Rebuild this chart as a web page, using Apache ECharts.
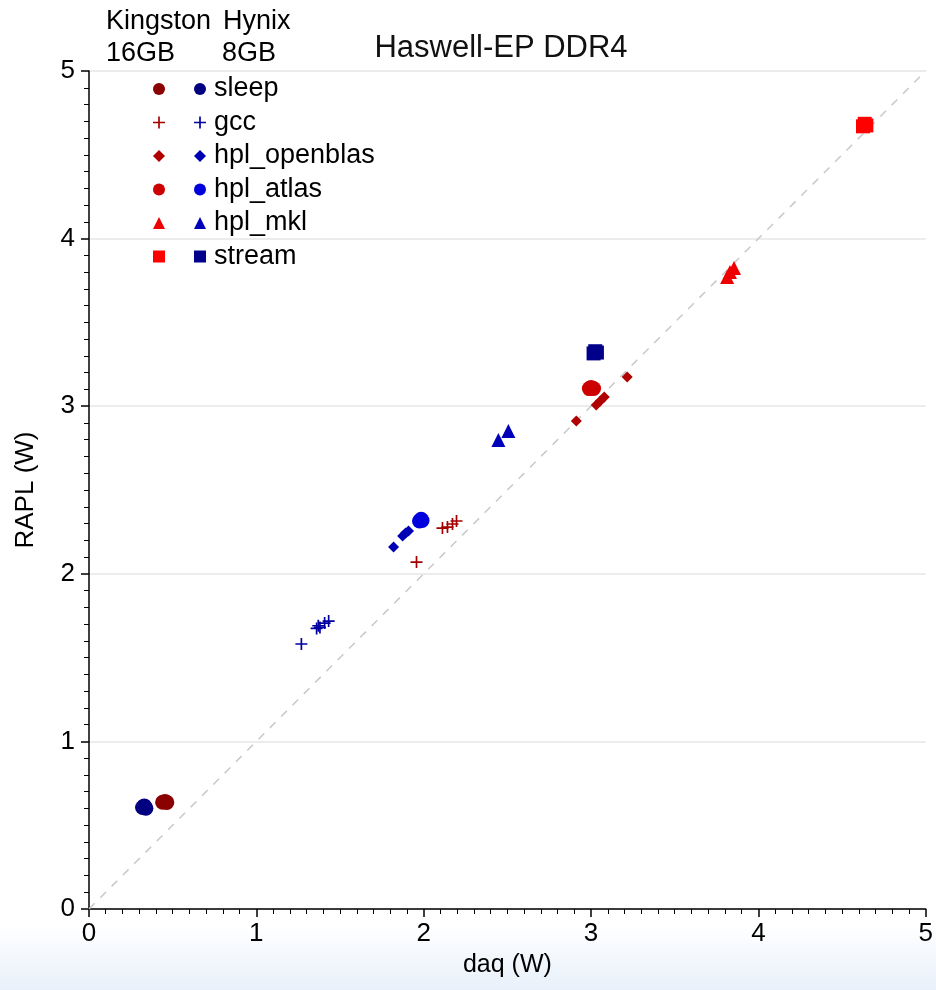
<!DOCTYPE html>
<html>
<head>
<meta charset="utf-8">
<title>Haswell-EP DDR4</title>
<script src="https://cdn.jsdelivr.net/npm/echarts@6/dist/echarts.min.js"></script>
<style>
  html, body { margin: 0; padding: 0; background: #fff; }
  #chart { width: 936px; height: 990px; }
</style>
</head>
<body>
<div id="chart"></div>
<script>
// 数据 => 每组 [daq (W), RAPL (W)]
const kingstonSleep = [[0.44, 0.637], [0.455, 0.641], [0.465, 0.636]]
const hynixSleep = [[0.32, 0.606], [0.33, 0.615], [0.335, 0.607], [0.34, 0.601]]
const kingstonGcc = [[1.957, 2.07], [2.112, 2.273], [2.142, 2.279], [2.172, 2.297], [2.196, 2.315]]
const hynixGcc = [[1.269, 1.581], [1.36, 1.674], [1.37, 1.69], [1.38, 1.68], [1.408, 1.706], [1.432, 1.718]]
const kingstonOpenblas = [[2.912, 2.912], [3.031, 3.007], [3.055, 3.031], [3.079, 3.055], [3.216, 3.174]]
const hynixOpenblas = [[1.82, 2.16], [1.874, 2.226], [1.892, 2.243], [1.909, 2.255]]
const kingstonAtlas = [[2.99, 3.105], [3.0, 3.112], [3.015, 3.106]]
const hynixAtlas = [[1.975, 2.315], [1.985, 2.325], [1.99, 2.318]]
const kingstonMkl = [[3.813, 3.771], [3.83, 3.8], [3.854, 3.825]]
const hynixMkl = [[2.446, 2.798], [2.506, 2.852]]
const kingstonStream = [[4.625, 4.67], [4.635, 4.685], [4.645, 4.675]]
const hynixStream = [[3.015, 3.315], [3.025, 3.328], [3.035, 3.32]]
// 对角参考线 y = x
const diagX = [0, 5]
const diagY = [0, 5]

const labels = ['sleep', 'gcc', 'hpl_openblas', 'hpl_atlas', 'hpl_mkl', 'stream']

const plusPath = 'path://M4.3,0h1.4v4.3h4.3v1.4h-4.3v4.3h-1.4v-4.3h-4.3v-1.4h4.3z'

// 封装 => 生成散点系列
function scatter(name, data, color, symbol, size) {
  return {
    name: name,
    type: 'scatter',
    data: data,
    symbol: symbol,
    symbolSize: size,
    itemStyle: { color: color, opacity: 1 },
    z: 3
  }
}

const series = [
  {
    type: 'line',
    data: diagX.map((x, i) => [x, diagY[i]]),
    symbol: 'none',
    silent: true,
    lineStyle: { color: '#c8c8c8', width: 1.5, type: [8, 8] },
    z: 1
  },
  scatter('K sleep', kingstonSleep, '#8b0000', 'circle', 15),
  scatter('H sleep', hynixSleep, '#000080', 'circle', 15),
  scatter('K gcc', kingstonGcc, '#a50000', plusPath, 12),
  scatter('H gcc', hynixGcc, '#0000a0', plusPath, 12),
  scatter('K hpl_openblas', kingstonOpenblas, '#b00000', 'diamond', 11),
  scatter('H hpl_openblas', hynixOpenblas, '#0000b4', 'diamond', 11),
  scatter('K hpl_atlas', kingstonAtlas, '#cc0000', 'circle', 15),
  scatter('H hpl_atlas', hynixAtlas, '#0000dd', 'circle', 15),
  scatter('K hpl_mkl', kingstonMkl, '#ee0000', 'triangle', 14),
  scatter('H hpl_mkl', hynixMkl, '#0000bb', 'triangle', 14),
  scatter('K stream', kingstonStream, '#ff0000', 'rect', 14),
  scatter('H stream', hynixStream, '#00008b', 'rect', 14)
]

const font = "'Liberation Sans', Arial, sans-serif"

const legendBase = {
  orient: 'vertical',
  top: 74,
  padding: 0,
  itemWidth: 12,
  itemHeight: 12,
  itemGap: 3.5,
  selectedMode: false,
  textStyle: { fontSize: 27, lineHeight: 30, color: '#000', fontFamily: font }
}

const myChart = echarts.init(document.querySelector('#chart'))
const option = {
  backgroundColor: '#fff',
  animation: false,
  title: {
    text: 'Haswell-EP DDR4',
    left: 496,
    textAlign: 'center',
    top: 28,
    textStyle: { fontSize: 31, fontWeight: 'normal', color: '#111', fontFamily: font }
  },
  graphic: [
    {
      type: 'rect',
      left: 0, top: 925, z: -10,
      shape: { width: 936, height: 65 },
      style: {
        fill: new echarts.graphic.LinearGradient(0, 0, 0, 1, [
          { offset: 0, color: '#ffffff' },
          { offset: 1, color: '#e8f0fa' }
        ])
      }
    },
    { type: 'text', left: 106, top: 8, style: { text: 'Kingston', fontSize: 27, fill: '#000', fontFamily: font } },
    { type: 'text', left: 223, top: 8, style: { text: 'Hynix', fontSize: 27, fill: '#000', fontFamily: font } },
    { type: 'text', left: 106, top: 40, style: { text: '16GB', fontSize: 27, fill: '#000', fontFamily: font } },
    { type: 'text', left: 222, top: 40, style: { text: '8GB', fontSize: 27, fill: '#000', fontFamily: font } }
  ],
  legend: [
    Object.assign({}, legendBase, {
      left: 153,
      data: labels.map(l => 'K ' + l),
      formatter: () => ' '
    }),
    Object.assign({}, legendBase, {
      left: 194,
      data: labels.map(l => 'H ' + l),
      formatter: name => name.slice(2),
      textStyle: Object.assign({}, legendBase.textStyle, { padding: [0, 0, 0, 3] })
    })
  ],
  grid: { left: 89, right: 9, top: 71, bottom: 81, containLabel: false },
  xAxis: {
    type: 'value',
    min: 0,
    max: 5,
    interval: 1,
    name: 'daq (W)',
    nameLocation: 'middle',
    nameGap: 44,
    nameTextStyle: { fontSize: 25, color: '#000', fontFamily: font },
    axisLine: { show: true, onZero: false, lineStyle: { color: '#000', width: 1.5 } },
    axisTick: { show: true, length: 8, lineStyle: { color: '#000', width: 1.5 } },
    minorTick: { show: true, splitNumber: 10, length: 5, lineStyle: { color: '#000', width: 1 } },
    axisLabel: { fontSize: 26, color: '#000', margin: 12, fontFamily: font },
    splitLine: { show: false }
  },
  yAxis: {
    type: 'value',
    min: 0,
    max: 5,
    interval: 1,
    name: 'RAPL (W)',
    nameLocation: 'middle',
    nameGap: 50,
    nameTextStyle: { fontSize: 26, color: '#000', fontFamily: font },
    axisLine: { show: true, onZero: false, lineStyle: { color: '#000', width: 1.5 } },
    axisTick: { show: true, length: 8, lineStyle: { color: '#000', width: 1.5 } },
    minorTick: { show: true, splitNumber: 10, length: 5, lineStyle: { color: '#000', width: 1 } },
    axisLabel: { fontSize: 26, color: '#000', margin: 14, fontFamily: font },
    splitLine: { show: true, lineStyle: { color: '#e6e6e6', width: 1.5 } }
  },
  series: series
}
myChart.setOption(option)
</script>
</body>
</html>
